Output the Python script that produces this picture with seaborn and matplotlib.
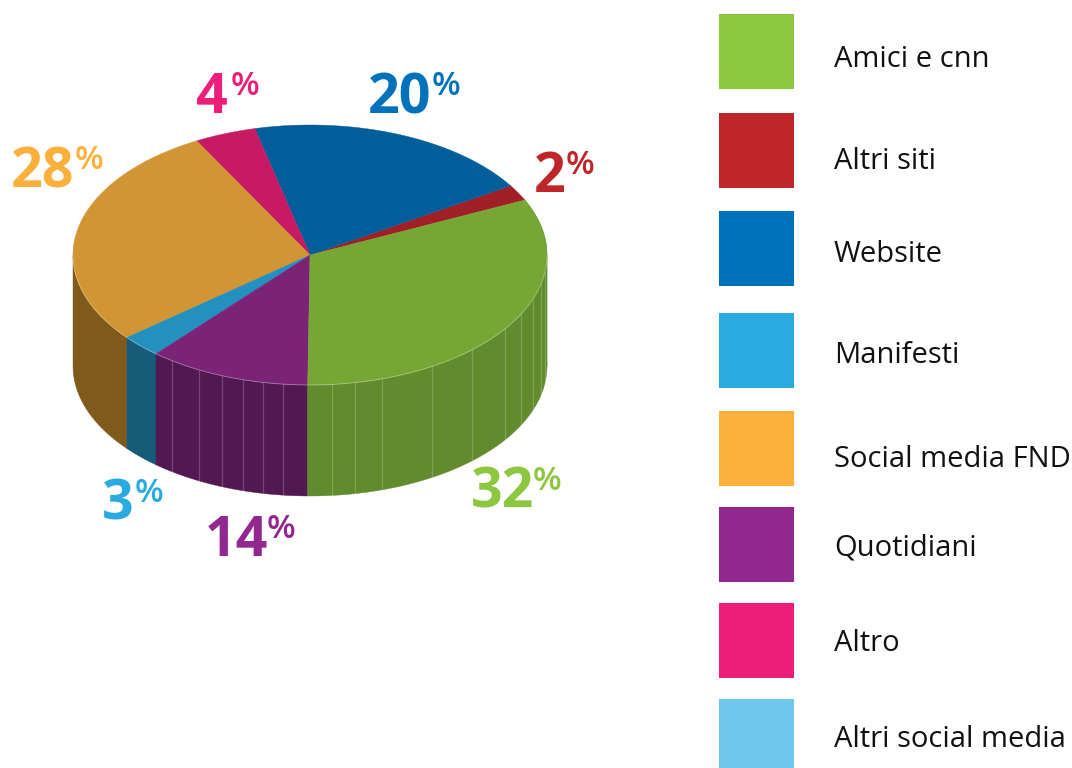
import numpy as np
import seaborn as sns
from matplotlib import pyplot as plt
from matplotlib.patches import Polygon, Rectangle

categories = ['Amici e cnn', 'Altri siti', 'Website', 'Manifesti',
              'Social media FND', 'Quotidiani', 'Altro', 'Altri social media']
# printed labels do not add up to 100, the slices as drawn do
printed = [32, 2, 20, 3, 28, 14, 4, None]
shares = [32.1, 2, 19.8, 2.8, 28, 11.1, 4.2, 0]
legend_colors = ['#8DC63F', '#BE2629', '#0072BC', '#29ABE2',
                 '#FBB03B', '#92278F', '#ED1E79', '#6FC8EC']
top_colors = ['#76A735', '#A12027', '#015E9B', '#2390BF',
              '#D29533', '#7B2377', '#C71A64', '#5FA9C9']
side_colors = ['#628B2D', '#7C1A1F', '#01466F', '#165B78',
               '#7F5A1B', '#521852', '#8E1247', '#3F7F9C']
pie_order = [1, 2, 6, 4, 3, 5, 0]

sns.set_theme(style='white')
plt.rcParams['font.family'] = ['Open Sans', 'DejaVu Sans']

cx, cy, rx, ry, depth = 310, 255, 237, 130, 111
start = 25

fig = plt.figure(figsize=(10.72, 7.68), dpi=100)
ax = fig.add_axes([0, 0, 1, 1])
ax.set_xlim(0, 1072)
ax.set_ylim(768, 0)
ax.axis('off')


def rim(t, drop=0):
    t = np.radians(t)
    return np.column_stack([cx + rx*np.cos(t), cy - ry*np.sin(t) + drop])


# walls first, then the top
a = start
for i in pie_order:
    b = a + shares[i]*3.6
    t = np.linspace(max(a, 180), min(b, 360), 80)
    if b > 180 and a < 360:
        wall = np.vstack([rim(t), rim(t[::-1], depth)])
        ax.add_patch(Polygon(wall, fc=side_colors[i], ec=side_colors[i], lw=0.3, zorder=2))
    if b > 360:
        t = np.linspace(360, b, 30)
        ax.add_patch(Polygon(np.vstack([rim(t), rim(t[::-1], depth)]),
                             fc=side_colors[i], ec=side_colors[i], lw=0.3, zorder=2))
    a = b

# pale seams on the wall
seam_x = [172, 199, 222, 243, 263, 283, 332, 355, 382, 432, 472, 505, 521, 533, 541, 545]
for x in seam_x:
    t = -np.degrees(np.arccos((x - cx)/rx))
    p = rim(np.array([t]))[0]
    ax.plot([x, x], [p[1], p[1] + depth], color='white', alpha=0.2, lw=0.9, zorder=3)

a = start
for i in pie_order:
    b = a + shares[i]*3.6
    t = np.linspace(a, b, 120)
    top = np.vstack([[cx, cy], rim(t)])
    ax.add_patch(Polygon(top, fc=top_colors[i], ec=top_colors[i], lw=0.3, zorder=4))
    a = b

t = np.linspace(180, 360, 200)
ax.plot(*rim(t).T, color='white', alpha=0.3, lw=0.7, zorder=5)

# value labels: (x, baseline) of the number and x of the percent sign
label_pos = {0: (471, 508, 533), 1: (534, 192, 566), 2: (368, 113, 432), 3: (102, 520, 135),
             4: (11, 187, 75), 5: (205, 556, 267), 6: (196, 113, 231)}
for i, (x, y, xp) in label_pos.items():
    ax.text(x, y, str(printed[i]), color=legend_colors[i], fontsize=40, fontweight='bold',
            ha='left', va='baseline', zorder=6)
    ax.text(xp, y - 18, '%', color=legend_colors[i], fontsize=24, fontweight='semibold',
            ha='left', va='baseline', zorder=6)

# legend
swatch_top = [14, 113, 211, 313, 411, 507, 603, 699]
text_mid = [67, 169, 262, 363, 467, 555, 651, 747]
for name, c, y, yt in zip(categories, legend_colors, swatch_top, text_mid):
    ax.add_patch(Rectangle((719, y), 75, 75, fc=c, ec='none'))
    ax.text(834, yt, name, color='#111111', fontsize=21, ha='left', va='baseline')

fig.savefig('out.png', dpi=100, facecolor='white')
